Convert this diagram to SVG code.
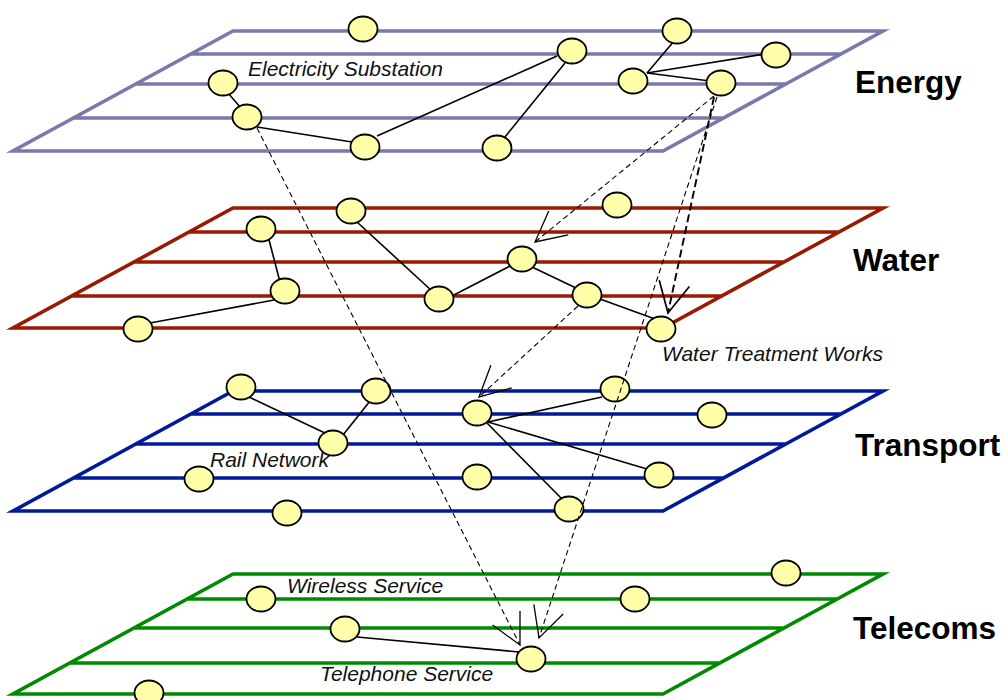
<svg xmlns="http://www.w3.org/2000/svg" width="1008" height="700" viewBox="0 0 1008 700">
<style>
.layer{fill:none;stroke-width:3.6;stroke-linejoin:miter;stroke-miterlimit:12}
.energy{stroke:#7A7AAA}
.water{stroke:#991A00}
.transport{stroke:#001A99}
.telecoms{stroke:#008A00}
.node{fill:#FFFFAA;stroke:#000;stroke-width:1.8}
.edge{stroke:#000;stroke-width:1.6;fill:none}
.dep{stroke:#000;stroke-width:1.1;fill:none;stroke-dasharray:5.5 3.5;marker-end:url(#ah)}
.depb{stroke:#000;stroke-width:1.9;fill:none;stroke-dasharray:8 4;marker-end:url(#ahb)}
.lbl{font-family:"Liberation Sans",Arial,sans-serif;font-style:italic;font-size:21px;fill:#111}
.ttl{font-family:"Liberation Sans",Arial,sans-serif;font-weight:bold;font-size:31.5px;fill:#000}
</style>
<defs>
<marker id="ah" markerUnits="userSpaceOnUse" orient="auto" refX="0" refY="0" markerWidth="40" markerHeight="40" viewBox="-35 -20 40 40" overflow="visible">
<path d="M-30.3,-15.4 L0,0 L-30.3,15.4" fill="none" stroke="#000" stroke-width="1.3" stroke-dasharray="none"/>
</marker>
<marker id="ahb" markerUnits="userSpaceOnUse" orient="auto" refX="0" refY="0" markerWidth="40" markerHeight="40" viewBox="-35 -20 40 40" overflow="visible">
<path d="M-30.3,-15.4 L0,0 L-30.3,15.4" fill="none" stroke="#000" stroke-width="1.7" stroke-dasharray="none"/>
</marker>
</defs>
<rect width="1008" height="700" fill="#fff"/>

<g id="layer-energy">
<path class="layer energy" d="M233,31 H883 L663,151 H13 Z M190.8,54 H841.8 M135.8,84 H785.8 M73.5,118 H723.5"/>
<text class="ttl" x="855" y="93">Energy</text>
</g>
<g id="layer-water">
<path class="layer water" d="M233,208 H883 L663,328 H13 Z M189,232 H839 M134,262 H784 M71.7,296 H721.7"/>
<text class="ttl" x="853" y="271">Water</text>
</g>
<g id="layer-transport">
<path class="layer transport" d="M233,391 H883 L663,511 H13 Z M190.8,414 H841.8 M135.8,444 H785.8 M73.5,478 H723.5"/>
<text class="ttl" x="855" y="456">Transport</text>
</g>
<g id="layer-telecoms">
<path class="layer telecoms" d="M233,574 H883 L663,694 H13 Z M187.2,599 H837.2 M134,628 H784 M69.8,663 H719.8"/>
<text class="ttl" x="853" y="639">Telecoms</text>
</g>

<g id="links">
<line class="edge" x1="228" y1="93" x2="241" y2="108"/>
<line class="edge" x1="257" y1="127" x2="352" y2="142"/>
<line class="edge" x1="377" y1="136" x2="557" y2="56"/>
<line class="edge" x1="565" y1="63" x2="505" y2="137"/>
<line class="edge" x1="675" y1="40" x2="647" y2="73"/>
<line class="edge" x1="647" y1="73" x2="765" y2="54"/>
<line class="edge" x1="647" y1="73" x2="710" y2="81"/>
<line class="edge" x1="268" y1="236" x2="280" y2="282"/>
<line class="edge" x1="274" y1="300" x2="150" y2="323"/>
<line class="edge" x1="357" y1="222" x2="432" y2="291"/>
<line class="edge" x1="452" y1="296" x2="510" y2="266"/>
<line class="edge" x1="532" y1="267" x2="576" y2="288"/>
<line class="edge" x1="600" y1="299" x2="655" y2="319"/>
<line class="edge" x1="249" y1="397" x2="327" y2="434"/>
<line class="edge" x1="343" y1="435" x2="370" y2="401"/>
<line class="edge" x1="488" y1="422" x2="602" y2="397"/>
<line class="edge" x1="488" y1="422" x2="647" y2="469"/>
<line class="edge" x1="487" y1="423" x2="561" y2="498"/>
<line class="edge" x1="357" y1="637" x2="519" y2="652"/>
</g>

<g id="energy-nodes">
<ellipse id="e1" class="node" cx="363" cy="29" rx="14.5" ry="12.5"/>
<ellipse id="e2" class="node" cx="223" cy="83" rx="14.5" ry="12.5"/>
<ellipse id="e3" class="node" cx="247" cy="117" rx="14.5" ry="12.5"/>
<ellipse id="e4" class="node" cx="365" cy="147" rx="14.5" ry="12.5"/>
<ellipse id="e5" class="node" cx="497" cy="148" rx="14.5" ry="12.5"/>
<ellipse id="e6" class="node" cx="572" cy="51" rx="14.5" ry="12.5"/>
<ellipse id="e7" class="node" cx="677" cy="31" rx="14.5" ry="12.5"/>
<ellipse id="e8" class="node" cx="633" cy="81" rx="14.5" ry="12.5"/>
<ellipse id="e9" class="node" cx="776" cy="55" rx="14.5" ry="12.5"/>
<ellipse id="e10" class="node" cx="721" cy="83" rx="14.5" ry="12.5"/>
</g>
<g id="water-nodes">
<ellipse id="w1" class="node" cx="351" cy="211" rx="14.5" ry="12.5"/>
<ellipse id="w2" class="node" cx="261" cy="229" rx="14.5" ry="12.5"/>
<ellipse id="w3" class="node" cx="285" cy="291" rx="14.5" ry="12.5"/>
<ellipse id="w4" class="node" cx="138" cy="329" rx="14.5" ry="12.5"/>
<ellipse id="w5" class="node" cx="439" cy="299" rx="14.5" ry="12.5"/>
<ellipse id="w6" class="node" cx="617" cy="205" rx="14.5" ry="12.5"/>
<ellipse id="w7" class="node" cx="522" cy="259" rx="14.5" ry="12.5"/>
<ellipse id="w8" class="node" cx="587" cy="295" rx="14.5" ry="12.5"/>
<ellipse id="w9" class="node" cx="661" cy="329" rx="14.5" ry="12.5"/>
</g>
<g id="transport-nodes">
<ellipse id="t1" class="node" cx="241" cy="387" rx="14.5" ry="12.5"/>
<ellipse id="t2" class="node" cx="376" cy="391" rx="14.5" ry="12.5"/>
<ellipse id="t3" class="node" cx="333" cy="443" rx="14.5" ry="12.5"/>
<ellipse id="t4" class="node" cx="477" cy="413" rx="14.5" ry="12.5"/>
<ellipse id="t5" class="node" cx="199" cy="479" rx="14.5" ry="12.5"/>
<ellipse id="t6" class="node" cx="477" cy="477" rx="14.5" ry="12.5"/>
<ellipse id="t7" class="node" cx="287" cy="513" rx="14.5" ry="12.5"/>
<ellipse id="t8" class="node" cx="615" cy="389" rx="14.5" ry="12.5"/>
<ellipse id="t9" class="node" cx="712" cy="415" rx="14.5" ry="12.5"/>
<ellipse id="t10" class="node" cx="659" cy="475" rx="14.5" ry="12.5"/>
<ellipse id="t11" class="node" cx="569" cy="509" rx="14.5" ry="12.5"/>
</g>
<g id="telecoms-nodes">
<ellipse id="c1" class="node" cx="261" cy="599" rx="14.5" ry="12.5"/>
<ellipse id="c2" class="node" cx="345" cy="629" rx="14.5" ry="12.5"/>
<ellipse id="c3" class="node" cx="149" cy="693" rx="14.5" ry="12.5"/>
<ellipse id="c4" class="node" cx="635" cy="599" rx="14.5" ry="12.5"/>
<ellipse id="c5" class="node" cx="786" cy="573" rx="14.5" ry="12.5"/>
<ellipse id="c6" class="node" cx="531" cy="659" rx="14.5" ry="12.5"/>
</g>

<g id="dependencies">
<line class="dep" x1="257" y1="128" x2="520" y2="645"/>
<line class="dep" x1="714" y1="96" x2="535" y2="242"/>
<line class="depb" x1="714" y1="97" x2="668" y2="313"/>
<line class="dep" x1="717" y1="97" x2="539" y2="638"/>
<line class="dep" x1="578" y1="306" x2="479" y2="397"/>
</g>

<g id="labels">
<text class="lbl" x="248" y="76">Electricity Substation</text>
<text class="lbl" x="662" y="361">Water Treatment Works</text>
<text class="lbl" x="210" y="467">Rail Network</text>
<text class="lbl" x="287" y="593">Wireless Service</text>
<text class="lbl" x="320" y="681">Telephone Service</text>
</g>
</svg>
